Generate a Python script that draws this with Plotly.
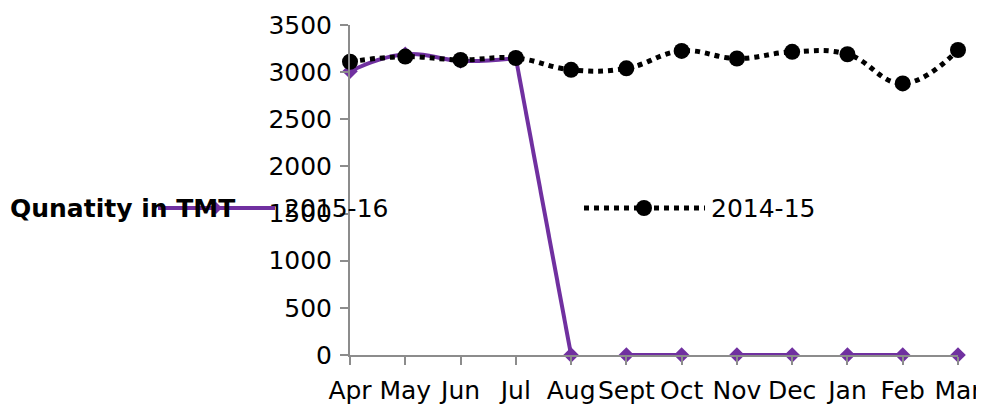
import plotly.graph_objects as go

months = ["Apr", "May", "Jun", "Jul", "Aug", "Sept", "Oct", "Nov", "Dec", "Jan", "Feb", "Mar"]
qty_2015_16 = [3010, 3190, 3120, 3150, 0, 0, 0, 0, 0, 0, 0, 0]
qty_2014_15 = [3110, 3165, 3130, 3150, 3025, 3040, 3225, 3145, 3215, 3190, 2880, 3235]
# continuous runs of the 2015-16 line (start index, end index, line shape), as drawn in the source chart
runs_2015_16 = [(0, 3, "spline"), (3, 4, "linear"), (5, 6, "spline"), (7, 8, "spline"),
                (9, 10, "spline"), (11, 11, "spline")]
y_ticks = [0, 500, 1000, 1500, 2000, 2500, 3000, 3500]

PURPLE = "#7030A0"
GREY = "#8C8C8C"
FONT = "DejaVu Sans"
FS = 25

OFF = 8  # page body margin
W, H = 984 - OFF, 404 - OFF
ml, mt = 342, 17
pw, ph = 608, 330
mr = W - ml - pw
mb = H - mt - ph


def px(xs):
    return (xs - OFF - ml) / pw


def py(ys):
    return (H - mb - (ys - OFF)) / ph


fig = go.Figure()

for a, b, shp in runs_2015_16:
    fig.add_trace(go.Scatter(
        x=months[a:b + 1], y=qty_2015_16[a:b + 1],
        mode="lines+markers" if b > a else "markers",
        line=dict(color=PURPLE, width=4, shape=shp, smoothing=1.3),
        marker=dict(symbol="diamond", size=12, color=PURPLE),
        cliponaxis=False, showlegend=False, name="2015-16",
    ))

fig.add_trace(go.Scatter(
    x=months, y=qty_2014_15, mode="lines+markers",
    line=dict(color="black", width=5, dash="5px,5px", shape="spline", smoothing=1.2),
    marker=dict(symbol="circle", size=16, color="black"),
    cliponaxis=False, showlegend=False, name="2014-15",
))

# legend drawn to match the source layout
ly = 208
shapes = [
    dict(type="line", xref="paper", yref="paper", x0=px(158), x1=px(275), y0=py(ly), y1=py(ly),
         line=dict(color=PURPLE, width=4), layer="above"),
    dict(type="path", xref="paper", yref="paper",
         path="M {a},{c} L {b},{d} L {e},{c} L {b},{f} Z".format(
             a=px(210), b=px(216), e=px(222), c=py(ly), d=py(ly - 6), f=py(ly + 6)),
         fillcolor=PURPLE, line=dict(color=PURPLE, width=0), layer="above"),
    dict(type="line", xref="paper", yref="paper", x0=px(584), x1=px(705), y0=py(ly), y1=py(ly),
         line=dict(color="black", width=5, dash="5px,5px"), layer="above"),
    dict(type="circle", xref="paper", yref="paper", x0=px(636), x1=px(652), y0=py(ly + 8), y1=py(ly - 8),
         fillcolor="black", line=dict(color="black", width=0), layer="above"),
]

annotations = [
    dict(text="<b>Qunatity in TMT</b>", xref="paper", yref="paper", x=px(8), y=py(ly),
         xanchor="left", yanchor="middle", showarrow=False, font=dict(family=FONT, size=FS, color="black")),
    dict(text="2015-16", xref="paper", yref="paper", x=px(282), y=py(ly),
         xanchor="left", yanchor="middle", showarrow=False, font=dict(family=FONT, size=FS, color="black")),
    dict(text="2014-15", xref="paper", yref="paper", x=px(709), y=py(ly),
         xanchor="left", yanchor="middle", showarrow=False, font=dict(family=FONT, size=FS, color="black")),
]

fig.update_layout(
    width=W, height=H,
    margin=dict(l=ml, r=mr, t=mt, b=mb, pad=0, autoexpand=False),
    paper_bgcolor="white", plot_bgcolor="white",
    font=dict(family=FONT, size=FS, color="black"),
    shapes=shapes, annotations=annotations,
    showlegend=False,
    xaxis=dict(type="category", categoryorder="array", categoryarray=months, range=[0, 11],
               automargin=False,
               showgrid=False, zeroline=False, showline=True, linecolor=GREY, linewidth=2,
               ticks="outside", ticklen=8, tickcolor=GREY, tickwidth=2, ticklabelstandoff=4,
               tickfont=dict(family=FONT, size=FS, color="black")),
    yaxis=dict(range=[0, 3500], tickvals=y_ticks, showgrid=False, zeroline=False,
               automargin=False,
               showline=True, linecolor=GREY, linewidth=2,
               ticks="outside", ticklen=8, tickcolor=GREY, tickwidth=2, ticklabelstandoff=3,
               tickfont=dict(family=FONT, size=FS, color="black")),
)

fig.write_html("out.html")
